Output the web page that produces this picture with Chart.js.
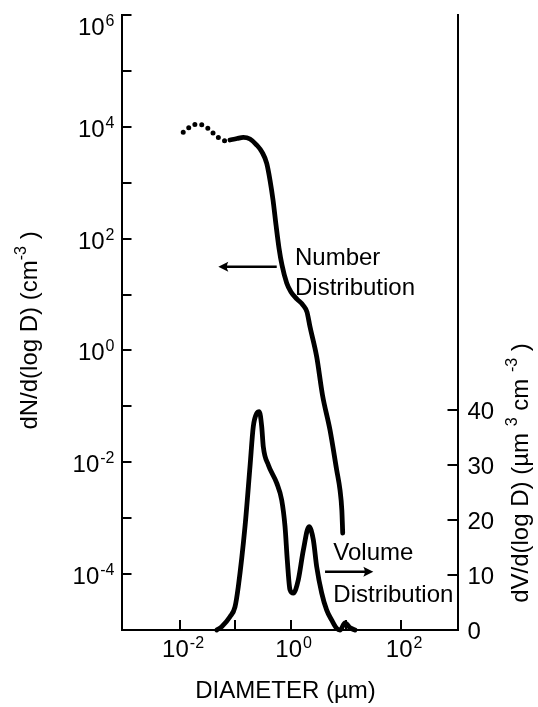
<!DOCTYPE html>
<html><head><meta charset="utf-8">
<script src="https://cdn.jsdelivr.net/npm/chart.js@4/dist/chart.umd.min.js"></script>
<style>html,body{margin:0;padding:0;background:#fff}#c{display:block}</style>
</head><body>
<canvas id="c" width="538" height="707"></canvas>
<script>
// ---- data ----
const numberDottedD = [0.0114, 0.0151, 0.0200, 0.0283, 0.0378, 0.0506, 0.0698];
const numberDottedN = [7980, 9910, 11100, 10300, 8070, 6310, 5410];

const numberD = [0.0800, 0.1072, 0.1393, 0.1841, 0.2438, 0.3041, 0.3698, 0.4236, 0.4808, 0.5445, 0.6166, 0.6982, 0.8492, 1.016, 1.306, 1.675, 1.982, 2.244, 2.965, 3.776, 5.164, 6.823, 7.834, 8.453, 8.770];
const numberN = [5808, 6180, 6486, 6053, 4721, 3540, 2223, 1117, 491, 175, 67.9, 33.7, 16.1, 11.1, 8.30, 6.49, 4.86, 2.65, 0.771, 0.159, 0.0377, 0.00724, 0.00318, 0.00140, 0.00054];

const volumeD = [0.0460, 0.0566, 0.0800, 0.0986, 0.1132, 0.1496, 0.1841, 0.2113, 0.2438, 0.2716, 0.2999, 0.3206, 0.3954, 0.5610, 0.6902, 0.7925, 0.8710, 0.9750, 1.119, 1.377, 1.698, 2.153, 2.576, 2.965, 3.656, 4.498, 5.546, 6.823, 7.834, 9.661, 11.89, 14.62];
const volumeV = [0, 0.6, 2.4, 4.2, 7.9, 18.8, 29.7, 37.0, 39.4, 39.7, 37.0, 33.3, 30.0, 26.7, 23.6, 18.8, 12.7, 7.3, 6.7, 9.1, 14.5, 18.8, 16.4, 11.5, 6.7, 3.6, 1.8, 0.3, 0, 1.3, 0.4, 0];

const xTickValues = [0.01, 0.1, 1, 10, 100];
const xTickLabelExps = ['-2', '0', '2'];          // labelled decades: 10^-2, 10^0, 10^2
const yTickValues = [1e-4, 1e-3, 1e-2, 1e-1, 1, 10, 100, 1e3, 1e4, 1e5, 1e6];
const yTickLabelExps = ['-4', '-2', '0', '2', '4', '6'];
const y2TickValues = [0, 10, 20, 30, 40];

const xTitle = 'DIAMETER (µm)';
const yTitleParts = [['dN/d(log D) (cm', false], ['-3', true], [' )', false]];
const y2TitleParts = [['dV/d(log D) (µm ', false], ['3', true], [' cm ', false], ['-3', true], [' )', false]];

const numberLabel = ['Number', 'Distribution'];
const volumeLabel = ['Volume', 'Distribution'];

// ---- drawing ----
const FONT = '"Liberation Sans", Arial, Helvetica, sans-serif';
const MAIN = '24px ' + FONT;
const SUP = '16px ' + FONT;

function pts(xs, ys) { return xs.map((v, i) => ({x: v, y: ys[i]})); }

function power(ctx, exp, x, yBase, align) {
  ctx.font = MAIN; const w1 = ctx.measureText('10').width;
  ctx.font = SUP; const w2 = ctx.measureText(exp).width;
  const total = w1 + 1 + w2;
  const left = align === 'right' ? x - total : x - total / 2;
  ctx.textAlign = 'left'; ctx.textBaseline = 'alphabetic';
  ctx.font = MAIN; ctx.fillText('10', left, yBase);
  ctx.font = SUP; ctx.fillText(exp, left + w1 + 1, yBase - 9);
}

function rich(ctx, parts, cx, cy) {
  let total = 0;
  const ws = parts.map(([t, s]) => { ctx.font = s ? SUP : MAIN; const w = ctx.measureText(t).width; total += w; return w; });
  ctx.save();
  ctx.translate(cx, cy);
  ctx.rotate(-Math.PI / 2);
  ctx.textAlign = 'left'; ctx.textBaseline = 'middle';
  let x = -total / 2;
  parts.forEach(([t, s], i) => {
    ctx.font = s ? SUP : MAIN;
    ctx.fillText(t, x, s ? -8 : 0);
    x += ws[i];
  });
  ctx.restore();
}

function arrow(ctx, x1, y, x2) {
  const dir = Math.sign(x2 - x1);
  ctx.lineWidth = 2.5;
  ctx.beginPath(); ctx.moveTo(x1, y); ctx.lineTo(x2 - dir * 6, y); ctx.stroke();
  ctx.beginPath();
  ctx.moveTo(x2, y);
  ctx.lineTo(x2 - dir * 10, y - 5);
  ctx.quadraticCurveTo(x2 - dir * 7, y, x2 - dir * 10, y + 5);
  ctx.closePath(); ctx.fill();
}

const decorate = {
  id: 'decorate',
  afterDraw(chart) {
    const {ctx, chartArea: ca} = chart;
    const sx = chart.scales.x, sy = chart.scales.y, sy2 = chart.scales.y2;
    ctx.save();
    ctx.strokeStyle = '#000'; ctx.fillStyle = '#000'; ctx.lineWidth = 2;

    // tick marks (pointing inward)
    ctx.beginPath();
    yTickValues.forEach(v => { const p = Math.round(sy.getPixelForValue(v)); ctx.moveTo(ca.left, p); ctx.lineTo(ca.left + 10, p); });
    xTickValues.forEach(v => { const p = Math.round(sx.getPixelForValue(v)); ctx.moveTo(p, ca.bottom); ctx.lineTo(p, ca.bottom - 10); });
    y2TickValues.forEach(v => { const p = Math.round(sy2.getPixelForValue(v)); ctx.moveTo(ca.right, p); ctx.lineTo(ca.right - 10, p); });
    ctx.stroke();

    // left tick labels
    yTickLabelExps.forEach(e => {
      const p = sy.getPixelForValue(Math.pow(10, +e));
      power(ctx, e, ca.left - 7, Math.max(p + 10, ca.top + 20), 'right');
    });
    // bottom tick labels
    xTickLabelExps.forEach(e => {
      const p = sx.getPixelForValue(Math.pow(10, +e));
      power(ctx, e, p + 3, ca.bottom + 27, 'center');
    });
    // right tick labels
    ctx.font = MAIN; ctx.textAlign = 'left'; ctx.textBaseline = 'middle';
    y2TickValues.forEach(v => { ctx.fillText(String(v), ca.right + 10, sy2.getPixelForValue(v) + 2); });

    // axis titles
    ctx.font = MAIN; ctx.textAlign = 'center'; ctx.textBaseline = 'alphabetic';
    ctx.fillText(xTitle, (ca.left + ca.right) / 2 - 4, ca.bottom + 68);
    rich(ctx, yTitleParts, 30, (ca.top + ca.bottom) / 2 + 8);
    rich(ctx, y2TitleParts, 521, 473);

    // annotations (placed in data units)
    const ay = sy.getPixelForValue(31.4);
    arrow(ctx, sx.getPixelForValue(0.561), ay, sx.getPixelForValue(0.0492));
    ctx.font = MAIN; ctx.textAlign = 'left'; ctx.textBaseline = 'alphabetic';
    const nx = sx.getPixelForValue(1.2);
    ctx.fillText(numberLabel[0], nx, sy.getPixelForValue(33.7));
    ctx.fillText(numberLabel[1], nx, sy.getPixelForValue(9.8));

    const vy = sy2.getPixelForValue(10.6);
    arrow(ctx, sx.getPixelForValue(4.2), vy, sx.getPixelForValue(31.4));
    ctx.font = MAIN; ctx.textAlign = 'left'; ctx.textBaseline = 'alphabetic';
    const vx = sx.getPixelForValue(5.93);
    ctx.fillText(volumeLabel[0], vx, sy2.getPixelForValue(12.7));
    ctx.fillText(volumeLabel[1], vx, sy2.getPixelForValue(5.15));
    ctx.restore();
  }
};

const lineStyle = {borderColor: '#000', borderWidth: 4.8, pointRadius: 0, fill: false,
  cubicInterpolationMode: 'monotone', borderJoinStyle: 'round', borderCapStyle: 'round', clip: 6};

const axisCommon = {
  grid: {display: false, drawTicks: false},
  ticks: {display: false},
  border: {display: true, color: '#000', width: 2},
  bounds: 'data'
};

new Chart(document.getElementById('c').getContext('2d'), {
  type: 'line',
  data: {
    datasets: [
      Object.assign({label: 'Number distribution (extrapolated)', data: pts(numberDottedD, numberDottedN), yAxisID: 'y'},
        lineStyle, {borderWidth: 5, borderDash: [0, 7]}),
      Object.assign({label: 'Number distribution', data: pts(numberD, numberN), yAxisID: 'y'}, lineStyle),
      Object.assign({label: 'Volume distribution', data: pts(volumeD, volumeV), yAxisID: 'y2'}, lineStyle)
    ]
  },
  options: {
    responsive: false, animation: false, devicePixelRatio: 1,
    layout: {padding: {left: 121.5, right: 80.5, top: 15, bottom: 77}},
    plugins: {legend: {display: false}, tooltip: {enabled: false}},
    scales: {
      x: Object.assign({type: 'logarithmic', position: 'bottom', min: Math.pow(10, -3.06), max: Math.pow(10, 3.02)}, axisCommon),
      y: Object.assign({type: 'logarithmic', position: 'left', min: 1e-5, max: 1e6}, axisCommon),
      y2: Object.assign({type: 'linear', position: 'right', min: 0, max: 111.8}, axisCommon)
    }
  },
  plugins: [decorate]
});
</script>
</body></html>
